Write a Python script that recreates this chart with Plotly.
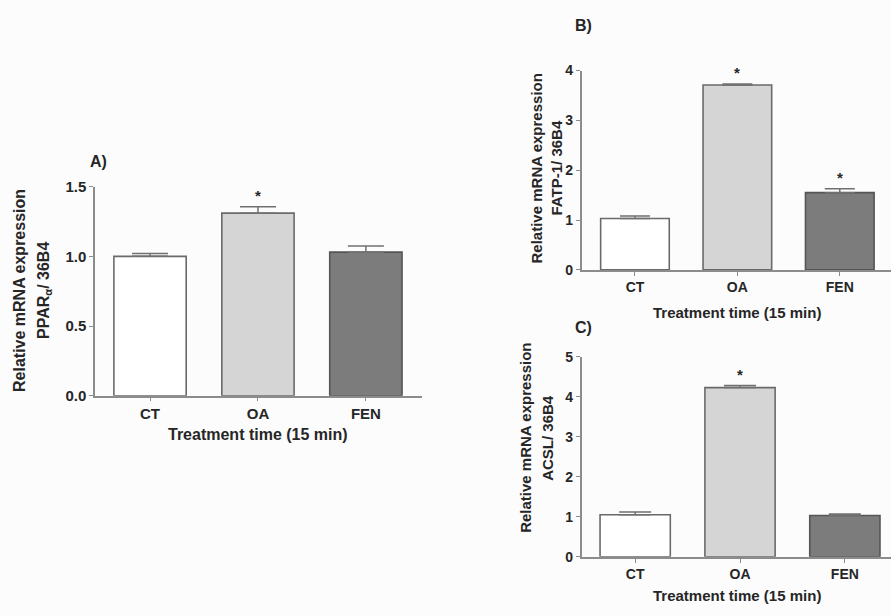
import plotly.graph_objects as go

categories = ["CT", "OA", "FEN"]

# Panel A: PPARα
a_values = [1.00, 1.31, 1.03]
a_errors = [0.02, 0.045, 0.045]
a_sig = [False, True, False]

# Panel B: FATP-1
b_values = [1.03, 3.71, 1.55]
b_errors = [0.05, 0.02, 0.08]
b_sig = [False, True, True]

# Panel C: ACSL
c_values = [1.05, 4.23, 1.03]
c_errors = [0.07, 0.05, 0.04]
c_sig = [False, True, False]

y_ticks_a = [0.0, 0.5, 1.0, 1.5]
y_ticks_b = [0, 1, 2, 3, 4]
y_ticks_c = [0, 1, 2, 3, 4, 5]

x_title = "Treatment time (15 min)"
y_title_line1 = "Relative mRNA expression"
y_title_a = "PPAR<sub>α</sub>/ 36B4"
y_title_b = "FATP-1/ 36B4"
y_title_c = "ACSL/ 36B4"

bar_fill = ["#ffffff", "#d5d5d5", "#7c7c7c"]
bar_line = ["#6a6a6a", "#6a6a6a", "#555555"]
AXC = "#8c8c8c"
TXT = "#262626"
FONT = "Arial, Liberation Sans, sans-serif"

W, H = 891, 616

def px_x(p):
    return p / W

def px_y(p):
    return 1 - p / H

fig = go.Figure()

panels = [
    dict(vals=a_values, errs=a_errors, sig=a_sig, xa="x", ya="y", cap=18,
         xdom=[px_x(95), px_x(422)], ydom=[px_y(397.7), px_y(182.7)],
         xr=[-0.51, 2.52], yr=[0, 1.5], ticks=y_ticks_a, fmt=".1f",
         tfs=15, tis=16, ytitle=y_title_a, label="A)", lab_xy=(98, 157),
         ytx=(20, 45), yty=290, xtx=258, xty=438),
    dict(vals=b_values, errs=b_errors, sig=b_sig, xa="x2", ya="y2", cap=15,
         xdom=[px_x(581.7), 1.0], ydom=[px_y(268.3), px_y(63.3)],
         xr=[-0.52, 2.50], yr=[0, 4], ticks=y_ticks_b, fmt="d",
         tfs=14, tis=15, ytitle=y_title_b, label="B)", lab_xy=(583, 17),
         ytx=(536, 556), yty=164, xtx=737, xty=312),
    dict(vals=c_values, errs=c_errors, sig=c_sig, xa="x3", ya="y3", cap=16,
         xdom=[px_x(581.7), 1.0], ydom=[px_y(563.3), px_y(357.7)],
         xr=[-0.51, 2.44], yr=[0, 5], ticks=y_ticks_c, fmt="d",
         tfs=14, tis=15, ytitle=y_title_c, label="C)", lab_xy=(583, 328),
         ytx=(526, 548), yty=441, xtx=737, xty=603),
]

for i, p in enumerate(panels):
    fig.add_trace(go.Bar(
        x=categories, y=p["vals"], xaxis=p["xa"], yaxis=p["ya"],
        width=0.67,
        marker=dict(color=bar_fill, line=dict(color=bar_line, width=1.6)),
        error_y=dict(type="data", array=p["errs"], arrayminus=[0] * 3,
                     symmetric=False, color="#707070", thickness=1.5,
                     width=p["cap"]),
        showlegend=False, hoverinfo="x+y",
    ))
    suffix = "" if i == 0 else str(i + 1)
    fig.layout["xaxis" + suffix] = dict(
        domain=p["xdom"], range=p["xr"], anchor=p["ya"],
        showline=True, linecolor=AXC, linewidth=1.5,
        ticks="outside", ticklen=4, tickcolor=AXC, tickwidth=1.2,
        tickfont=dict(family=FONT, size=p["tfs"], color=TXT, weight="bold"),
        showgrid=False, zeroline=False, fixedrange=True,
        type="category",
    )
    fig.layout["yaxis" + suffix] = dict(
        domain=p["ydom"], range=p["yr"], anchor=p["xa"],
        showline=True, linecolor=AXC, linewidth=1.5,
        ticks="outside", ticklen=4, tickcolor=AXC, tickwidth=1.2,
        tickvals=p["ticks"], tickformat=p["fmt"],
        tickfont=dict(family=FONT, size=p["tfs"], color=TXT, weight="bold"),
        showgrid=False, zeroline=False, fixedrange=True,
    )
    # y-axis title (two rotated lines)
    for txt, xc in zip([y_title_line1, p["ytitle"]], p["ytx"]):
        fig.add_annotation(
            text=txt, xref="paper", yref="paper",
            x=px_x(xc), y=px_y(p["yty"]), xanchor="center", yanchor="middle",
            textangle=-90, showarrow=False,
            font=dict(family=FONT, size=p["tis"], color=TXT, weight="bold"),
        )
    # x-axis title
    fig.add_annotation(
        text=x_title, xref="paper", yref="paper",
        x=px_x(p["xtx"]), y=px_y(p["xty"]), xanchor="center", yanchor="middle",
        showarrow=False,
        font=dict(family=FONT, size=p["tis"], color=TXT, weight="bold"),
    )
    # panel label
    fig.add_annotation(
        text=p["label"], xref="paper", yref="paper",
        x=px_x(p["lab_xy"][0]), y=px_y(p["lab_xy"][1]),
        xanchor="center", yanchor="middle", showarrow=False,
        font=dict(family=FONT, size=16, color=TXT, weight="bold"),
    )
    # significance asterisks
    for cat, v, e, s in zip(categories, p["vals"], p["errs"], p["sig"]):
        if s:
            fig.add_annotation(
                text="*", x=cat, y=v + e, xref=p["xa"], yref=p["ya"],
                xanchor="center", yanchor="bottom", yshift=1, showarrow=False,
                font=dict(family=FONT, size=15, color=TXT, weight="bold"),
            )

fig.update_layout(
    width=W, height=H, margin=dict(l=0, r=0, t=0, b=0),
    paper_bgcolor="#fcfcfc", plot_bgcolor="rgba(0,0,0,0)",
    bargap=0.33,
)

fig.write_html("out.html")
